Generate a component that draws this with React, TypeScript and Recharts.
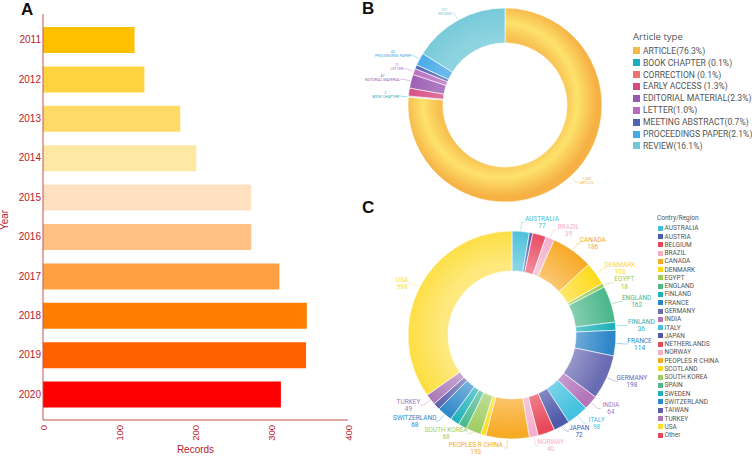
import React from 'react';
import { BarChart, Bar, XAxis, YAxis, Cell, PieChart, Pie } from 'recharts';

// panel A
const years = ['2011', '2012', '2013', '2014', '2015', '2016', '2017', '2018', '2019', '2020'];
const records = [120, 133, 180, 201, 273, 273, 310, 346, 345, 312];
const yearColors = ['#FFC000', '#FFD23F', '#FFDA66', '#FFE8A3', '#FFE1C2', '#FFC184', '#FFA143', '#FF8000', '#FF6000', '#FF0000'];
const recordTicks = [0, 100, 200, 300, 400];

// panel B
const articleTypes = ['ARTICLE', 'BOOK CHAPTER', 'CORRECTION', 'EARLY ACCESS', 'EDITORIAL MATERIAL', 'LETTER', 'MEETING ABSTRACT', 'PROCEEDINGS PAPER', 'REVIEW'];
const articleCounts = [1568, 2, 2, 27, 47, 21, 14, 43, 331];
const articleLegend = ['ARTICLE(76.3%)', 'BOOK CHAPTER (0.1%)', 'CORRECTION (0.1%)', 'EARLY ACCESS (1.3%)', 'EDITORIAL MATERIAL(2.3%)', 'LETTER(1.0%)', 'MEETING ABSTRACT(0.7%)', 'PROCEEDINGS PAPER(2.1%)', 'REVIEW(16.1%)'];
const articleColors = ['#F7B84A', '#1AAFC0', '#EE7272', '#D54C82', '#9A5AB0', '#B86CC0', '#4F64B0', '#42A8E6', '#72C8D8'];
const articleLabelled = ['ARTICLE', 'BOOK CHAPTER', 'EDITORIAL MATERIAL', 'LETTER', 'PROCEEDINGS PAPER', 'REVIEW'];

// panel C
const countries = ['AUSTRALIA', 'AUSTRIA', 'BELGIUM', 'BRAZIL', 'CANADA', 'DENMARK', 'EGYPT', 'ENGLAND', 'FINLAND', 'FRANCE', 'GERMANY', 'INDIA', 'ITALY', 'JAPAN', 'NETHERLANDS', 'NORWAY', 'PEOPLES R CHINA', 'SCOTLAND', 'SOUTH KOREA', 'SPAIN', 'SWEDEN', 'SWITZERLAND', 'TAIWAN', 'TURKEY', 'USA', 'Other'];
const countryCounts = [77, 15, 60, 39, 186, 103, 18, 162, 36, 114, 198, 64, 98, 72, 75, 40, 193, 23, 68, 39, 41, 68, 31, 49, 998, 0];
const countryColors = ['#45BFD9', '#4A5CB0', '#E8475F', '#F4AFCB', '#F7A823', '#FDDA1E', '#9CCB5A', '#4DB88C', '#1FB1BA', '#2D86C8', '#6A6CB3', '#B374B9', '#45C2DF', '#4F5AAB', '#E84A5C', '#F4B0CE', '#F7AA25', '#FDDC22', '#A0CD63', '#4CB98E', '#20B2B8', '#2E88C9', '#5A5EAD', '#A977B6', '#FDDD3A', '#E84A5C'];
const countryUnlabelled = ['AUSTRIA', 'BELGIUM', 'NETHERLANDS', 'SCOTLAND', 'SPAIN', 'SWEDEN', 'TAIWAN', 'Other'];

const yearData = years.map((y, i) => ({ year: y, records: records[i] }));
const articleData = articleTypes.map((n, i) => ({ name: n, value: articleCounts[i] }));
const countryData = countries.map((n, i) => ({ name: n, value: countryCounts[i], idx: i })).filter((d) => d.value > 0);

const RED = '#B8202A';
const AXIS = '#C8504A';
const RAD = Math.PI / 180;
const LABEL_FONT = 'Roboto, "Liberation Sans", sans-serif';

const B_CX = 170, B_CY = 100, B_OUT = 97, B_IN = 62;
const C_CX = 147, C_CY = 125, C_OUT = 104, C_IN = 64;
const C_LABEL_R = C_OUT + 9;
const C_LABEL_GAP = 14.5;

function mix(hex: string, t: number) {
  const n = parseInt(hex.slice(1), 16);
  const ch = [(n >> 16) & 255, (n >> 8) & 255, n & 255].map((v) => Math.round(v + (255 - v) * t));
  return `rgb(${ch[0]},${ch[1]},${ch[2]})`;
}

// label collision avoidance for the country ring:
// flank labels are pushed down, labels under the ring are pushed up from the bottom
const countryLabelShift: Record<string, number> = (() => {
  const total = countryCounts.reduce((s, v) => s + v, 0);
  let cum = 0;
  const items: { name: string; y: number; right: boolean }[] = [];
  countries.forEach((n, i) => {
    const mid = (cum + countryCounts[i] / 2) / total * 360;
    cum += countryCounts[i];
    if (countryUnlabelled.includes(n)) return;
    items.push({ name: n, y: -Math.cos(mid * RAD) * C_LABEL_R, right: Math.sin(mid * RAD) >= 0 });
  });
  const shift: Record<string, number> = {};
  [true, false].forEach((side) => {
    const flank = items.filter((it) => it.right === side && Math.abs(it.y) <= 90).sort((a, b) => a.y - b.y);
    let prev = -Infinity;
    flank.forEach((it) => {
      const y = Math.max(it.y, prev + C_LABEL_GAP);
      shift[it.name] = y - it.y;
      prev = y;
    });
    const bottom = items.filter((it) => it.right === side && it.y > 90).sort((a, b) => b.y - a.y);
    let below = Infinity;
    bottom.forEach((it) => {
      const y = Math.min(it.y, below - C_LABEL_GAP);
      shift[it.name] = y - it.y;
      below = y;
    });
  });
  return shift;
})();

const XTick = (p: any) => (
  <text x={p.x} y={p.y} transform={`rotate(-90 ${p.x} ${p.y})`} textAnchor="end" dominantBaseline="central"
    fill={RED} fontSize={9.5} fontFamily='"Liberation Sans", Arial, sans-serif'>
    {p.payload.value}
  </text>
);

const YTick = (p: any) => (
  <text x={p.x} y={p.y} textAnchor="end" dominantBaseline="central" fill={RED} fontSize={10}
    fontFamily='"Liberation Sans", Arial, sans-serif'>
    {p.payload.value}
  </text>
);

function articleLabel(p: any) {
  const name = p.payload?.name ?? p.name;
  if (!articleLabelled.includes(name)) return null;
  const color = articleColors[articleTypes.indexOf(name)];
  const a = -p.midAngle * RAD;
  const cos = Math.cos(a), sin = Math.sin(a);
  const x0 = p.cx + (p.outerRadius + 1) * cos, y0 = p.cy + (p.outerRadius + 1) * sin;
  const x1 = p.cx + (p.outerRadius + 8) * cos, y1 = p.cy + (p.outerRadius + 8) * sin;
  const right = cos >= 0;
  const x2 = x1 + (right ? 3 : -3);
  const w = name.length * 1.85;
  const tx = x2 + (right ? 1 + w / 2 : -1 - w / 2);
  const val = (p.payload?.value ?? p.value).toLocaleString('en-US');
  return (
    <g>
      <polyline points={`${x0},${y0} ${x1},${y1} ${x2},${y1}`} fill="none" stroke={color} strokeWidth={0.4} />
      <text x={tx} y={y1 - 2.5} textAnchor="middle" fontSize={3.6} fill={color} fontFamily={LABEL_FONT}>{val}</text>
      <text x={tx} y={y1 + 1.6} textAnchor="middle" fontSize={3.6} fill={color} fontFamily={LABEL_FONT}>{name}</text>
    </g>
  );
}

function countryLabel(p: any) {
  const name = p.payload?.name ?? p.name;
  if (countryUnlabelled.includes(name)) return null;
  const color = countryColors[countries.indexOf(name)];
  const a = -p.midAngle * RAD;
  const cos = Math.cos(a), sin = Math.sin(a);
  const x0 = p.cx + (p.outerRadius + 1) * cos, y0 = p.cy + (p.outerRadius + 1) * sin;
  const x1 = p.cx + C_LABEL_R * cos, y1 = p.cy + C_LABEL_R * sin + (countryLabelShift[name] || 0);
  const right = cos >= 0;
  const x2 = x1 + (right ? 3 : -3);
  const w = name.length * 6.5 * 0.56;
  const tx = x2 + (right ? 1 + w / 2 : -1 - w / 2);
  const val = p.payload?.value ?? p.value;
  return (
    <g>
      <polyline points={`${x0},${y0} ${x1},${y1} ${x2},${y1}`} fill="none" stroke={color} strokeWidth={0.5} strokeOpacity={0.8} />
      <text x={tx} y={y1 - 1.3} textAnchor="middle" fontSize={6.5} fill={color} fontFamily={LABEL_FONT}>{name}</text>
      <text x={tx} y={y1 + 5.9} textAnchor="middle" fontSize={6.5} fill={color} fontFamily={LABEL_FONT}>{val}</text>
    </g>
  );
}

const panelLetter = (t: string, left: number, top: number) => (
  <div style={{ position: 'absolute', left, top, fontFamily: '"Liberation Sans", Arial, sans-serif', fontWeight: 700, fontSize: 17, lineHeight: '17px', color: '#111' }}>{t}</div>
);

export default function App() {
  return (
    <div style={{ position: 'absolute', left: 0, top: 0, width: 752, height: 456, background: '#fff', overflow: 'hidden' }}>
      {/* A: records per year */}
      <div style={{ position: 'absolute', left: 0, top: 0 }}>
        <BarChart width={370} height={456} data={yearData} layout="vertical" margin={{ top: 14, right: 22, bottom: 0, left: 0 }}>
          <XAxis type="number" dataKey="records" domain={[0, 400]} ticks={recordTicks} interval={0} height={36}
            axisLine={{ stroke: AXIS }} tickLine={false} tickSize={0} tickMargin={5} tick={<XTick />}
            label={{ value: 'Records', position: 'insideBottom', offset: 3, fill: RED, fontSize: 10, fontFamily: '"Liberation Sans", Arial, sans-serif' }} />
          <YAxis type="category" dataKey="year" width={43} interval={0} padding={{ top: 6, bottom: 6 }}
            axisLine={{ stroke: AXIS }} tickLine={false} tickSize={0} tickMargin={2} tick={<YTick />} />
          <Bar dataKey="records" barSize={26} isAnimationActive={false}>
            {yearData.map((d, i) => <Cell key={d.year} fill={yearColors[i]} />)}
          </Bar>
        </BarChart>
      </div>
      <div style={{ position: 'absolute', left: -6, top: 214, width: 22, textAlign: 'center', transform: 'rotate(-90deg)', color: RED, fontSize: 10, lineHeight: '12px', fontFamily: '"Liberation Sans", Arial, sans-serif' }}>Year</div>

      {/* B: article type */}
      <div style={{ position: 'absolute', left: 330, top: 0 }}>
        <PieChart width={300} height={205}>
          <defs>
            {articleTypes.map((n, i) => (
              <radialGradient key={n} id={`bg${i}`} gradientUnits="userSpaceOnUse" cx={B_CX} cy={B_CY} r={B_OUT}>
                {i === 0 ? (
                  <>
                    <stop offset={B_IN / B_OUT} stopColor="#F8C050" />
                    <stop offset={0.8} stopColor="#FDE26C" />
                    <stop offset={1} stopColor="#F6B144" />
                  </>
                ) : (
                  <>
                    <stop offset={B_IN / B_OUT} stopColor={mix(articleColors[i], 0.2)} />
                    <stop offset={1} stopColor={articleColors[i]} />
                  </>
                )}
              </radialGradient>
            ))}
          </defs>
          <Pie data={articleData} dataKey="value" nameKey="name" cx={B_CX} cy={B_CY} innerRadius={B_IN} outerRadius={B_OUT}
            startAngle={90} endAngle={-270} stroke="#fff" strokeWidth={0.6} label={articleLabel} labelLine={false} isAnimationActive={false}>
            {articleData.map((d, i) => <Cell key={d.name} fill={`url(#bg${i})`} />)}
          </Pie>
        </PieChart>
      </div>
      <div style={{ position: 'absolute', left: 633, top: 30, fontFamily: '"Open Sans", sans-serif', fontSize: 9.5, lineHeight: '14px', color: '#555' }}>Article type</div>
      {articleLegend.map((t, i) => (
        <div key={t} style={{ position: 'absolute', left: 633, top: 50.7 + i * 11.9 - 6, height: 12, display: 'flex', alignItems: 'center', whiteSpace: 'nowrap', fontFamily: LABEL_FONT, fontSize: 8.6, color: '#555' }}>
          <span style={{ display: 'inline-block', width: 7, height: 7, background: articleColors[i], marginRight: 3 }} />
          {t}
        </div>
      ))}

      {/* C: country / region */}
      <div style={{ position: 'absolute', left: 360, top: 205 }}>
        <PieChart width={296} height={251}>
          <defs>
            {countries.map((n, i) => (
              <radialGradient key={n} id={`cg${i}`} gradientUnits="userSpaceOnUse" cx={C_CX} cy={C_CY} r={C_OUT}>
                <stop offset={C_IN / C_OUT} stopColor={mix(countryColors[i], 0.35)} />
                <stop offset={1} stopColor={countryColors[i]} />
              </radialGradient>
            ))}
          </defs>
          <Pie data={countryData} dataKey="value" nameKey="name" cx={C_CX} cy={C_CY} innerRadius={C_IN} outerRadius={C_OUT}
            startAngle={90} endAngle={-270} stroke="#fff" strokeWidth={0.6} label={countryLabel} labelLine={false} isAnimationActive={false}>
            {countryData.map((d) => <Cell key={d.name} fill={`url(#cg${d.idx})`} />)}
          </Pie>
        </PieChart>
      </div>
      <div style={{ position: 'absolute', left: 657, top: 213, fontFamily: LABEL_FONT, fontSize: 6.5, lineHeight: '10px', color: '#555' }}>Contry/Region</div>
      {countries.map((t, i) => (
        <div key={t} style={{ position: 'absolute', left: 658, top: 228.3 + i * 8.27 - 4, height: 8, display: 'flex', alignItems: 'center', whiteSpace: 'nowrap', fontFamily: LABEL_FONT, fontSize: 6.5, color: '#555' }}>
          <span style={{ display: 'inline-block', width: 5, height: 5, background: countryColors[i], marginRight: 1.5 }} />
          {t}
        </div>
      ))}

      {panelLetter('A', 21, 1)}
      {panelLetter('B', 362, 0)}
      {panelLetter('C', 362, 199)}
    </div>
  );
}
